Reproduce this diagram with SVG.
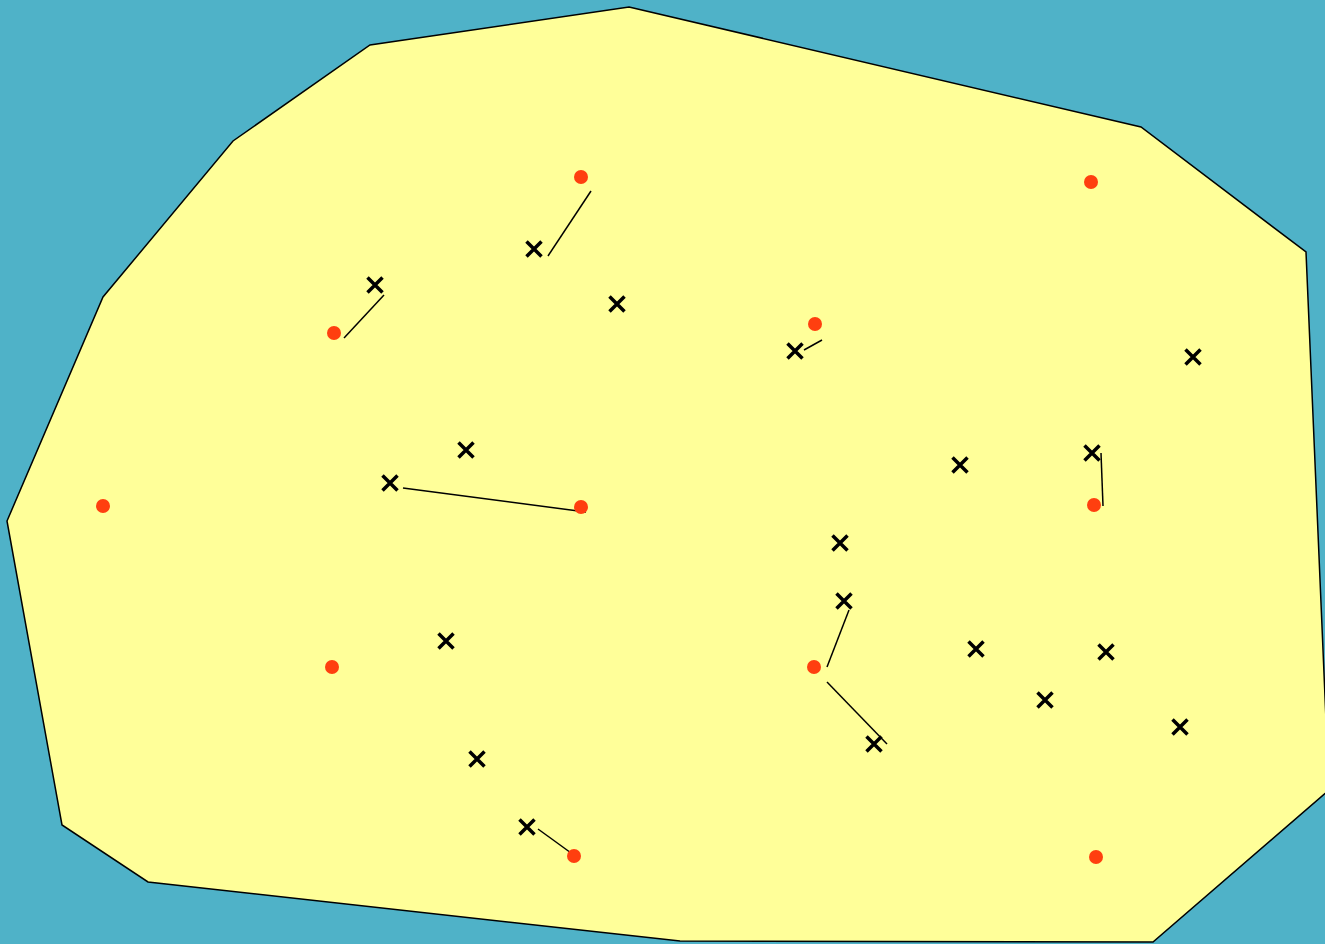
<svg xmlns="http://www.w3.org/2000/svg" width="1325" height="944" viewBox="0 0 1325 944">
<style>
.dot{fill:#ff3f0f}
.x{stroke:#000;stroke-width:3.5;fill:none}
.ln{stroke:#000;stroke-width:1.5;fill:none}
</style>
<defs>
<g id="xm"><path class="x" d="M-7.5,-7.5L7.5,7.5M-7.5,7.5L7.5,-7.5"/></g>
</defs>
<rect width="1325" height="944" fill="#4fb2c8"/>
<polygon id="region" points="629,7 1141,127 1306,252 1329,790 1153,942 680,941 148,882 62,825 7,521 103,297 233,141 370,45" fill="#ffff99" stroke="#000" stroke-width="1.5"/>
<g id="connectors">
<line class="ln" x1="548" y1="256" x2="591" y2="191"/>
<line class="ln" x1="344" y1="338" x2="384" y2="295"/>
<line class="ln" x1="403" y1="488" x2="586" y2="512"/>
<line class="ln" x1="804" y1="350" x2="822" y2="340"/>
<line class="ln" x1="1101" y1="453" x2="1103" y2="506"/>
<line class="ln" x1="849" y1="610" x2="827" y2="667"/>
<line class="ln" x1="827" y1="682" x2="887" y2="744"/>
<line class="ln" x1="538" y1="829" x2="578" y2="858"/>
</g>
<g id="dots">
<circle class="dot" cx="581" cy="177" r="7"/>
<circle class="dot" cx="1091" cy="182" r="7"/>
<circle class="dot" cx="334" cy="333" r="7"/>
<circle class="dot" cx="815" cy="324" r="7"/>
<circle class="dot" cx="103" cy="506" r="7"/>
<circle class="dot" cx="581" cy="507" r="7"/>
<circle class="dot" cx="1094" cy="505" r="7"/>
<circle class="dot" cx="332" cy="667" r="7"/>
<circle class="dot" cx="814" cy="667" r="7"/>
<circle class="dot" cx="574" cy="856" r="7"/>
<circle class="dot" cx="1096" cy="857" r="7"/>
</g>
<g id="crosses">
<use href="#xm" x="375" y="285"/>
<use href="#xm" x="534" y="249"/>
<use href="#xm" x="617" y="304"/>
<use href="#xm" x="795" y="351"/>
<use href="#xm" x="1193" y="357"/>
<use href="#xm" x="466" y="450"/>
<use href="#xm" x="390" y="483"/>
<use href="#xm" x="960" y="465"/>
<use href="#xm" x="1092" y="453"/>
<use href="#xm" x="840" y="543"/>
<use href="#xm" x="844" y="601"/>
<use href="#xm" x="446" y="641"/>
<use href="#xm" x="976" y="649"/>
<use href="#xm" x="1106" y="652"/>
<use href="#xm" x="1045" y="700"/>
<use href="#xm" x="1180" y="727"/>
<use href="#xm" x="874" y="744"/>
<use href="#xm" x="477" y="759"/>
<use href="#xm" x="527" y="827"/>
</g>
</svg>
